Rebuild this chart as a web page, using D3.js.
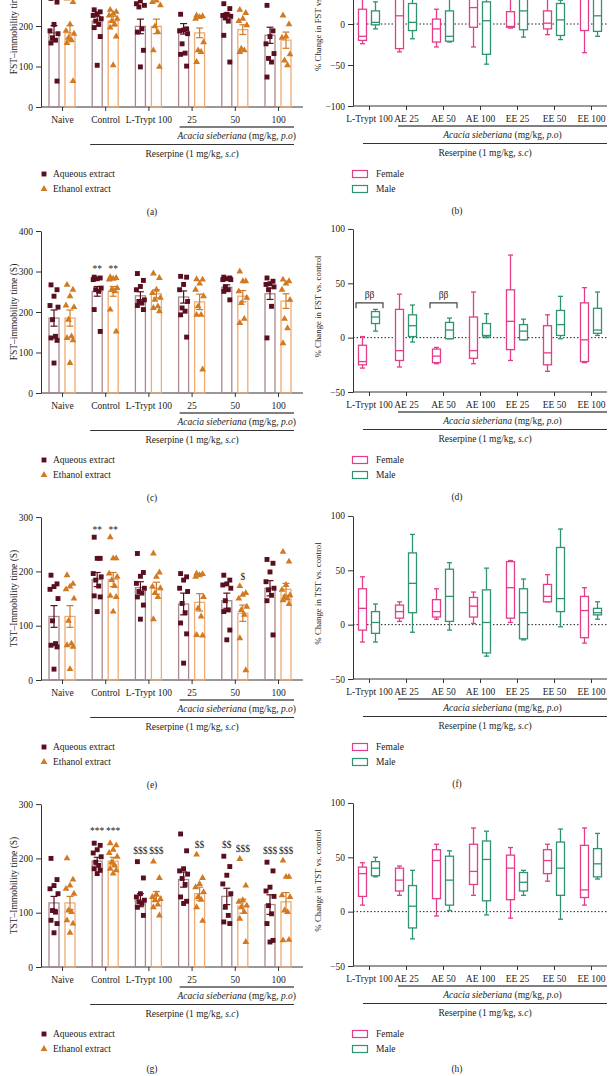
<!DOCTYPE html>
<html><head><meta charset="utf-8">
<script src="https://cdn.jsdelivr.net/npm/d3@7"></script>
<style>
body{margin:0;background:#fff}
svg{display:block}
text{font-family:"Liberation Serif","Times New Roman",serif;fill:#222}
</style>
</head><body>
<svg id="c" width="610" height="1076"></svg>
<script>
// ---------------- DATA ----------------
const barGroups = ["Naive", "Control", "L-Trypt 100", "25", "50", "100"];
const boxCats = ["L-Trypt 100", "AE 25", "AE 50", "AE 100", "EE 25", "EE 50", "EE 100"];

// (a) FST immobility, Aqueous / Ethanol extract
const fstA_aqMean = [183, 212, 199, 193, 224, 177];
const fstA_aqSem  = [18, 12, 18, 13, 8, 20];
const fstA_etMean = [183, 212, 199, 183, 191, 165];
const fstA_etSem  = [18, 12, 18, 12, 12, 20];
const fstA_aqPts = [
  [268, 259, 204, 188, 181, 171, 165, 158, 64],
  [240, 235, 230, 226, 218, 212, 204, 196, 174, 103],
  [295, 280, 262, 255, 251, 247, 193, 185, 140, 99],
  [229, 193, 190, 188, 181, 156, 133, 130, 101],
  [255, 243, 229, 226, 224, 220, 212, 177, 111],
  [251, 188, 174, 156, 132, 120, 111, 74]
];
const fstA_etPts = [
  [268, 259, 204, 188, 181, 171, 165, 158, 64],
  [240, 235, 230, 226, 218, 212, 204, 196, 174, 103],
  [290, 270, 263, 259, 251, 199, 185, 140, 99],
  [226, 224, 222, 218, 160, 140, 136, 111],
  [240, 232, 218, 212, 202, 144, 140, 136],
  [226, 204, 174, 171, 130, 115, 103]
];

// (c) FST immobility
const fstC_aqMean = [185, 251, 240, 237, 261, 245];
const fstC_aqSem  = [20, 12, 10, 15, 6, 14];
const fstC_etMean = [185, 251, 245, 225, 239, 227];
const fstC_etSem  = [20, 12, 10, 19, 14, 18];
const fstC_aqPts = [
  [267, 255, 239, 216, 212, 181, 140, 136, 130, 74],
  [286, 284, 282, 280, 259, 255, 251, 206, 152],
  [295, 278, 263, 255, 230, 226, 222, 216, 206],
  [288, 286, 268, 255, 226, 210, 202, 193, 138],
  [286, 284, 282, 280, 280, 262, 255, 251, 230],
  [284, 276, 270, 268, 262, 255, 214, 136]
];
const fstC_etPts = [
  [267, 255, 239, 216, 212, 181, 140, 136, 130, 74],
  [286, 284, 282, 280, 259, 255, 251, 206, 152],
  [295, 284, 255, 247, 235, 230, 214, 210, 202],
  [281, 280, 270, 255, 239, 214, 193, 193, 58],
  [300, 276, 276, 251, 235, 222, 183, 173],
  [280, 276, 270, 255, 230, 183, 160, 123]
];
const fstC_annot = [["Control", 0, "**", 306], ["Control", 1, "**", 306]];

// (e) TST immobility
const tstE_aqMean = [117, 185, 170, 140, 146, 169];
const tstE_aqSem  = [20, 13, 11, 20, 14, 14];
const tstE_etMean = [117, 185, 169, 143, 123, 167];
const tstE_etSem  = [20, 13, 11, 16, 15, 11];
const tstE_aqPts = [
  [193, 177, 172, 167, 150, 109, 67, 64, 61, 20],
  [263, 224, 224, 196, 190, 184, 173, 155, 153, 126],
  [233, 198, 191, 178, 169, 163, 160, 153, 138, 112],
  [196, 190, 184, 169, 163, 141, 124, 105, 85, 31],
  [193, 184, 177, 175, 169, 146, 129, 126, 92, 74],
  [222, 215, 199, 181, 169, 166, 156, 146, 83]
];
const tstE_etPts = [
  [193, 177, 172, 167, 150, 109, 67, 64, 61, 20],
  [263, 224, 224, 196, 190, 184, 173, 155, 153, 126],
  [233, 198, 190, 172, 169, 160, 153, 112],
  [196, 195, 193, 190, 153, 132, 117, 83, 82],
  [173, 160, 157, 150, 135, 129, 120, 77, 18],
  [236, 218, 175, 166, 156, 153, 150, 147, 140]
];
const tstE_annot = [["Control", 0, "**", 277], ["Control", 1, "**", 277], ["50", 1, "$", 190]];

// (g) TST immobility
const tstG_aqMean = [118, 195, 123, 161, 130, 115];
const tstG_aqSem  = [12, 7, 12, 14, 15, 18];
const tstG_etMean = [118, 195, 130, 135, 112, 120];
const tstG_etSem  = [12, 7, 9, 12, 13, 17];
const tstG_aqPts = [
  [200, 161, 150, 144, 135, 104, 101, 86, 80, 63],
  [228, 224, 216, 210, 203, 193, 187, 181, 178, 172],
  [194, 164, 135, 129, 123, 120, 117, 110, 95],
  [245, 214, 181, 177, 171, 163, 152, 129, 121, 117],
  [204, 185, 169, 153, 135, 110, 95, 83, 80],
  [193, 177, 147, 140, 130, 113, 98, 80, 49, 46]
];
const tstG_etPts = [
  [200, 161, 150, 144, 135, 104, 101, 86, 80, 63],
  [228, 224, 216, 210, 203, 193, 187, 181, 178, 172],
  [194, 164, 134, 129, 125, 123, 115, 110, 95],
  [207, 164, 153, 147, 138, 129, 124, 110, 85],
  [199, 150, 123, 120, 113, 110, 101, 89, 46],
  [196, 166, 166, 132, 129, 104, 101, 49, 50]
];
const tstG_annot = [
  ["Control", 0, "***", 250], ["Control", 1, "***", 250],
  ["L-Trypt 100", 0, "$$$", 214], ["L-Trypt 100", 1, "$$$", 214],
  ["25", 1, "$$", 224], ["50", 0, "$$", 224], ["50", 1, "$$$", 217],
  ["100", 0, "$$$", 214], ["100", 1, "$$$", 214]
];

// Box plots: [min, q1, median, q3, max]
const fstB_female = [[-24,-20,-15,18,35],[-34,-30,10,40,55],[-28,-22,-6,6,18],[-28,-4,20,40,60],[-5,-4,-3,15,35],[-13,-6,1,16,32],[-35,-8,30,40,55]];
const fstB_male   = [[-6,-1,2,16,27],[-18,-8,2,25,35],[-22,-21,-15,16,32],[-49,-37,4,27,35],[-16,-7,16,35,45],[-19,-14,5,25,29],[-15,-9,10,32,40]];
const fstD_female = [[-28,-25,-22,-7,1],[-27,-21,-12,26,40],[-24,-23,-17,-10.5,-9],[-24,-19,-12,19,42],[-21,-11,15,44,76],[-31,-25,-14,11,21],[-23,-22,-2,32,46]];
const fstD_male   = [[6,13,19,24,26],[-4,1,11,21,30],[-1,-1,7,14,18],[0,1.5,2,13,22],[-2,-2,6,12,17],[-1,2,12,25,38],[2,4,7,27,42]];
const fstD_annot  = [["L-Trypt 100", "ββ", 32], ["AE 50", "ββ", 32]];
const tstF_female = [[-16,-5,15,33,44],[3,6,12,18,21],[5,7,12,23,33],[1,7,17,25,30],[2,6,34,58,59],[21,21,26,37,46],[-17,-12,13,26,34]];
const tstF_male   = [[-16,-8,2,12,19],[-7,11,38,66,83],[-5,3,26,51,57],[-29,-26,2,32,52],[-14,-13,11,33,42],[-2,12,24,71,88],[5,9,11,15,21]];
const tstH_female = [[6,14,35,41,45],[15,19,29,40,42],[-4,12,47,57,62],[15,25,37,62,77],[-6,11,40,52,59],[28,35,47,57,62],[6,13,20,61,77]];
const tstH_male   = [[32,33,40,46,50],[-25,-15,5,24,38],[1,6,29,51,56],[-3,10,48,65,74],[15,19,27,36,38],[-7,15,40,64,76],[30,32,44,58,72]];

// ---------------- DRAWING ----------------
const svg = d3.select("#c");
const FS = 9.5;
const AX = "#333";
const COL = {
  aqBar: "#a8898d", aqPt: "#5a0f1e", aqErr: "#5a0f1e",
  etBar: "#f0ab72", etPt: "#d27a22", etErr: "#d27a22",
  female: "#e43d8c", male: "#2f9470"
};
const ptOffsets = [-3, 3, 0, -4, 4, -1.5, 1.5, -3, 3, 0];

function styleAxis(g) {
  g.attr("font-family", null).attr("font-size", null);
  g.selectAll("path,line").attr("stroke", AX).attr("stroke-width", 1);
  g.selectAll("text").attr("font-size", FS).attr("fill", "#222");
}

function richText(g, x, y, parts, anchor) {
  const t = g.append("text").attr("x", x).attr("y", y).attr("text-anchor", anchor || "middle")
    .attr("dominant-baseline", "central").attr("font-size", FS);
  parts.forEach(p => t.append("tspan").text(p[0]).attr("font-style", p[1] ? "italic" : "normal"));
  return t;
}

function groupLabels(g, x1a, x2, yA, x1r) {
  g.append("line").attr("x1", x1a).attr("x2", x2).attr("y1", yA + 20).attr("y2", yA + 20).attr("stroke", "#555").attr("stroke-width", 1.3);
  richText(g, (x1a + x2) / 2, yA + 29, [["Acacia sieberiana", true], [" (mg/kg, ", false], ["p.o", true], [")", false]]);
  g.append("line").attr("x1", x1r).attr("x2", x2).attr("y1", yA + 37.5).attr("y2", yA + 37.5).attr("stroke", "#333").attr("stroke-width", 1.1);
  richText(g, (x1r + x2) / 2, yA + 46.5, [["Reserpine (1 mg/kg, ", false], ["s.c", true], [")", false]]);
}

function barPanel(o) {
  const y = d3.scaleLinear().domain([0, o.yMax]).range([o.axisY, o.axisY - o.yMax * o.k]);
  const x = d3.scalePoint().domain(barGroups).range([62, 278]);
  const g = svg.append("g");
  const ax = g.append("g").attr("transform", "translate(41,0)")
    .call(d3.axisLeft(y).tickValues(d3.range(0, o.yMax + 1, 100)).tickSize(5).tickPadding(3).tickSizeOuter(0));
  styleAxis(ax);
  g.append("line").attr("x1", 41).attr("x2", 303).attr("y1", o.axisY).attr("y2", o.axisY).attr("stroke", AX);
  const xb = g.append("g").attr("transform", `translate(0,${o.axisY})`)
    .call(d3.axisBottom(x).tickSize(4).tickPadding(5).tickSizeOuter(0));
  xb.select(".domain").remove();
  styleAxis(xb);
  g.append("text").attr("transform", `translate(14,${y(o.yMax / 2)}) rotate(-90)`)
    .attr("text-anchor", "middle").attr("dominant-baseline", "central").attr("font-size", FS).text(o.ylabel);

  const series = [
    {mean: o.aqMean, sem: o.aqSem, pts: o.aqPts, dx: -8, bar: COL.aqBar, pt: COL.aqPt, err: COL.aqErr, sym: d3.symbolSquare, size: 24},
    {mean: o.etMean, sem: o.etSem, pts: o.etPts, dx: 8, bar: COL.etBar, pt: COL.etPt, err: COL.etErr, sym: d3.symbolTriangle, size: 20}
  ];
  series.forEach(s => {
    barGroups.forEach((grp, i) => {
      const cx = x(grp) + s.dx;
      g.append("rect").attr("x", cx - 5).attr("y", y(s.mean[i])).attr("width", 10)
        .attr("height", o.axisY - y(s.mean[i])).attr("fill", "none").attr("stroke", s.bar).attr("stroke-width", 1.3);
    });
  });
  series.forEach(s => {
    barGroups.forEach((grp, i) => {
      const cx = x(grp) + s.dx;
      s.pts[i].forEach((v, j) => {
        g.append("path").attr("d", d3.symbol(s.sym, s.size)())
          .attr("transform", `translate(${cx + ptOffsets[j % ptOffsets.length]},${y(v)})`).attr("fill", s.pt);
      });
      const lo = y(s.mean[i] - s.sem[i]), hi = y(s.mean[i] + s.sem[i]);
      g.append("line").attr("x1", cx).attr("x2", cx).attr("y1", lo).attr("y2", hi).attr("stroke", s.err).attr("stroke-width", 1.2);
      [lo, hi].forEach(yy => g.append("line").attr("x1", cx - 3.5).attr("x2", cx + 3.5).attr("y1", yy).attr("y2", yy).attr("stroke", s.err).attr("stroke-width", 1.2));
    });
  });
  (o.annot || []).forEach(a => {
    g.append("text").attr("x", x(a[0]) + (a[1] === 0 ? -8 : 8)).attr("y", y(a[3]))
      .attr("text-anchor", "middle").attr("dominant-baseline", "central").attr("font-size", FS)
      .attr("fill", "#555").text(a[2]);
  });
  groupLabels(g, x("25") - 12, 294, o.axisY, x("Control") - 15);
  // legend
  const ly = o.axisY + 67;
  g.append("path").attr("d", d3.symbol(d3.symbolSquare, 24)()).attr("transform", `translate(44,${ly})`).attr("fill", COL.aqPt);
  g.append("text").attr("x", 53).attr("y", ly).attr("dominant-baseline", "central").attr("font-size", FS).text("Aqueous extract");
  g.append("path").attr("d", d3.symbol(d3.symbolTriangle, 20)()).attr("transform", `translate(44,${ly + 15})`).attr("fill", COL.etPt);
  g.append("text").attr("x", 53).attr("y", ly + 15).attr("dominant-baseline", "central").attr("font-size", FS).text("Ethanol extract");
  g.append("text").attr("x", 152).attr("y", Math.min(o.axisY + 105, 1069)).attr("text-anchor", "middle").attr("dominant-baseline", "central").attr("font-size", FS).text(o.letter);
}

function boxPanel(o) {
  const y = d3.scaleLinear().domain([o.yMin, 100]).range([o.axisY, o.axisY - (100 - o.yMin) * o.k]);
  const x = d3.scalePoint().domain(boxCats).range([369, 591]);
  const g = svg.append("g");
  const ax = g.append("g").attr("transform", "translate(353,0)")
    .call(d3.axisLeft(y).tickValues(d3.range(o.yMin, 101, 50)).tickSize(5).tickPadding(3).tickSizeOuter(0));
  styleAxis(ax);
  g.append("line").attr("x1", 353).attr("x2", 607).attr("y1", o.axisY).attr("y2", o.axisY).attr("stroke", AX);
  const xb = g.append("g").attr("transform", `translate(0,${o.axisY})`)
    .call(d3.axisBottom(x).tickSize(4).tickPadding(5).tickSizeOuter(0));
  xb.select(".domain").remove();
  styleAxis(xb);
  g.append("line").attr("x1", 353).attr("x2", 607).attr("y1", y(0)).attr("y2", y(0))
    .attr("stroke", "#222").attr("stroke-width", 1).attr("stroke-dasharray", "1.5,2");
  g.append("text").attr("transform", `translate(318,${y((o.yMin + 100) / 2) - 4}) rotate(-90)`)
    .attr("text-anchor", "middle").attr("dominant-baseline", "central").attr("font-size", 8.8).text(o.ylabel);

  [[o.female, -6.5, COL.female], [o.male, 6.5, COL.male]].forEach(([data, dx, c]) => {
    boxCats.forEach((cat, i) => {
      const [mn, q1, md, q3, mx] = data[i];
      const cx = x(cat) + dx, w = 8;
      const sw = 1.3;
      g.append("line").attr("x1", cx).attr("x2", cx).attr("y1", y(mx)).attr("y2", y(q3)).attr("stroke", c).attr("stroke-width", sw);
      g.append("line").attr("x1", cx).attr("x2", cx).attr("y1", y(q1)).attr("y2", y(mn)).attr("stroke", c).attr("stroke-width", sw);
      [mn, mx].forEach(v => g.append("line").attr("x1", cx - 2.5).attr("x2", cx + 2.5).attr("y1", y(v)).attr("y2", y(v)).attr("stroke", c).attr("stroke-width", sw));
      g.append("rect").attr("x", cx - w / 2).attr("y", y(q3)).attr("width", w).attr("height", y(q1) - y(q3))
        .attr("fill", "#fff").attr("stroke", c).attr("stroke-width", sw);
      g.append("line").attr("x1", cx - w / 2).attr("x2", cx + w / 2).attr("y1", y(md)).attr("y2", y(md)).attr("stroke", c).attr("stroke-width", sw);
    });
  });
  (o.annot || []).forEach(a => {
    const cx = x(a[0]);
    const yb = y(a[2]), yd = y(a[2] - 5);
    g.append("path").attr("d", `M${cx - 13},${yd}V${yb}H${cx + 14}V${yd}`).attr("fill", "none").attr("stroke", "#444").attr("stroke-width", 1.2);
    g.append("text").attr("x", cx + 0.5).attr("y", yb - 8).attr("text-anchor", "middle").attr("dominant-baseline", "central").attr("font-size", FS).text(a[1]);
  });
  groupLabels(g, x("AE 25") - 8, 607, o.axisY, x("L-Trypt 100") - 6);
  const ly = o.axisY + 68;
  g.append("rect").attr("x", 352.5).attr("y", ly - 3.5).attr("width", 15).attr("height", 7).attr("fill", "#fff").attr("stroke", COL.female).attr("stroke-width", 1.2);
  g.append("text").attr("x", 376).attr("y", ly).attr("dominant-baseline", "central").attr("font-size", FS).text("Female");
  g.append("rect").attr("x", 352.5).attr("y", ly + 15 - 3.5).attr("width", 15).attr("height", 7).attr("fill", "#fff").attr("stroke", COL.male).attr("stroke-width", 1.2);
  g.append("text").attr("x", 376).attr("y", ly + 15).attr("dominant-baseline", "central").attr("font-size", FS).text("Male");
  g.append("text").attr("x", 457).attr("y", Math.min(o.axisY + 105, 1069)).attr("text-anchor", "middle").attr("dominant-baseline", "central").attr("font-size", FS).text(o.letter);
}

barPanel({axisY: 107, yMax: 400, k: 0.405, ylabel: "FST–immobility time (S)", aqMean: fstA_aqMean, aqSem: fstA_aqSem, etMean: fstA_etMean, etSem: fstA_etSem, aqPts: fstA_aqPts, etPts: fstA_etPts, letter: "(a)"});
barPanel({axisY: 393, yMax: 400, k: 0.405, ylabel: "FST–immobility time (S)", aqMean: fstC_aqMean, aqSem: fstC_aqSem, etMean: fstC_etMean, etSem: fstC_etSem, aqPts: fstC_aqPts, etPts: fstC_etPts, annot: fstC_annot, letter: "(c)"});
barPanel({axisY: 680, yMax: 300, k: 0.543, ylabel: "TST–Immobility time (S)", aqMean: tstE_aqMean, aqSem: tstE_aqSem, etMean: tstE_etMean, etSem: tstE_etSem, aqPts: tstE_aqPts, etPts: tstE_etPts, annot: tstE_annot, letter: "(e)"});
barPanel({axisY: 967, yMax: 300, k: 0.543, ylabel: "TST–Immobility time (S)", aqMean: tstG_aqMean, aqSem: tstG_aqSem, etMean: tstG_etMean, etSem: tstG_etSem, aqPts: tstG_aqPts, etPts: tstG_etPts, annot: tstG_annot, letter: "(g)"});

boxPanel({axisY: 106, yMin: -100, k: 0.82, ylabel: "% Change in FST vs. control", female: fstB_female, male: fstB_male, letter: "(b)"});
boxPanel({axisY: 392, yMin: -50, k: 1.087, ylabel: "% Change in FST vs. control", female: fstD_female, male: fstD_male, annot: fstD_annot, letter: "(d)"});
boxPanel({axisY: 679, yMin: -50, k: 1.087, ylabel: "% Change in TST vs. control", female: tstF_female, male: tstF_male, letter: "(f)"});
boxPanel({axisY: 966, yMin: -50, k: 1.087, ylabel: "% Change in TST vs. control", female: tstH_female, male: tstH_male, letter: "(h)"});
</script>
</body></html>
